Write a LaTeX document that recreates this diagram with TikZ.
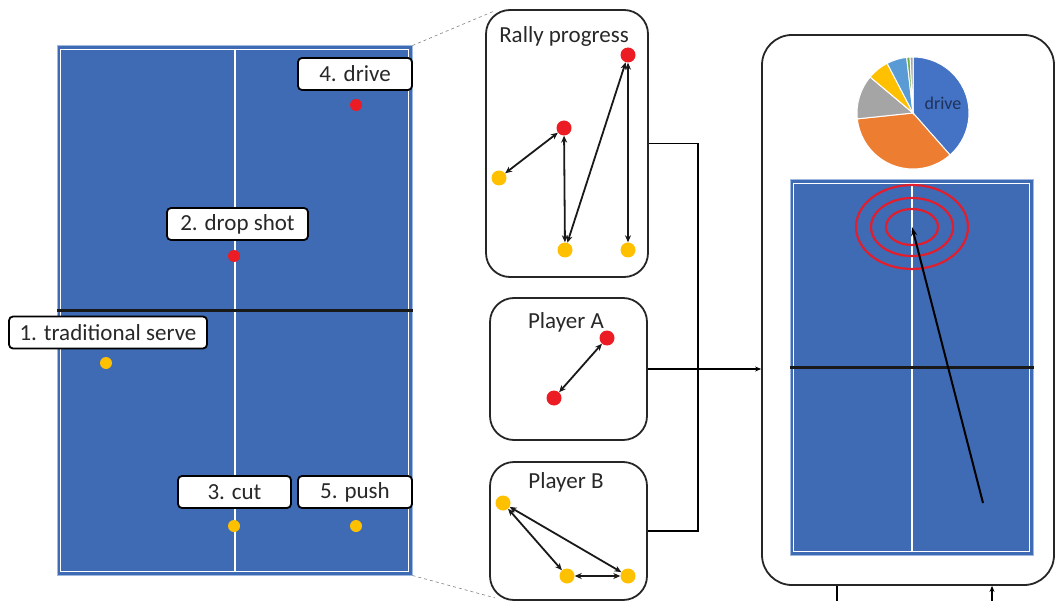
\documentclass[tikz,border=0pt]{standalone}
\usepackage{fontspec}
\setmainfont{Carlito}
\usetikzlibrary{positioning, arrows.meta}
\definecolor{tableblue}{RGB}{63,107,180}
\definecolor{rimblue}{RGB}{160,185,225}
\definecolor{dotred}{RGB}{235,28,36}
\definecolor{dotyellow}{RGB}{255,192,0}
\definecolor{textgray}{RGB}{40,40,40}
\definecolor{ringred}{RGB}{225,30,45}
\definecolor{pieblue}{RGB}{68,114,196}
\definecolor{pieorange}{RGB}{237,125,49}
\definecolor{piegray}{RGB}{165,165,165}
\definecolor{pieyellow}{RGB}{255,192,0}
\definecolor{pielight}{RGB}{91,155,213}
\definecolor{piegreen}{RGB}{112,173,71}
\definecolor{navytext}{RGB}{31,50,90}

\begin{document}
\begin{tikzpicture}[x=1pt, y=-1pt, every node/.style={font=\fontsize{23}{26}\selectfont, text=textgray},
  tag/.style={draw=black, fill=white, rounded corners=4pt, line width=1.8pt, minimum height=32pt, inner sep=2pt},
  panel/.style={draw=black!85, rounded corners=24pt, line width=1.8pt},
  court/.style={draw=rimblue, fill=tableblue, line width=1pt},
  rdot/.style={circle, fill=dotred, inner sep=0pt, minimum size=#1}, rdot/.default=15pt,
  ydot/.style={circle, fill=dotyellow, inner sep=0pt, minimum size=#1}, ydot/.default=15pt,
  move/.style={<->, >={Stealth[length=7pt, width=6pt]}, line width=1.8pt, black!90},
  link/.style={line width=1.5pt},
  net/.style={line width=2.5pt, black!90},
  ring/.style={draw=ringred, line width=2.2pt}]
 \useasboundingbox (0,0) rectangle (1056,601);

 % left table
 \node[court, minimum width=355pt, minimum height=529pt] (court) at (234.5,310.5) {};
 \draw[white, line width=1.5pt] ([shift={(4pt,-4pt)}]court.north west) rectangle ([shift={(-4pt,4pt)}]court.south east);
 \draw[white, line width=2pt] ([yshift=-4pt]court.north) -- ([yshift=4pt]court.south);
 \draw[net] (court.west) -- (court.east);

 \node[rdot=12pt] (drive) at (356,105) {};
 \node[rdot=12pt] (drop)  at (234,256) {};
 \node[ydot=12pt] (serve) at (106,363) {};
 \node[ydot=12pt] (cut)   at (234,526) {};
 \node[ydot=12pt] (push)  at (356,526) {};
 \node[tag, minimum width=114pt] (lbldrive) at (355,74)    {4. drive};
 \node[tag, minimum width=141pt] (lbldrop)  at (237.5,224) {2. drop shot};
 \node[tag, minimum width=198pt] (lblserve) at (108,332.5) {1. traditional serve};
 \node[tag, minimum width=113pt] (lblcut)   at (234.5,492) {3. cut};
 \node[tag, minimum width=114pt] (lblpush)  at (355,492)   {5. push};

 % panels
 \node[panel, minimum width=162pt, minimum height=267pt] (rally)   at (567,143.5) {};
 \node[panel, minimum width=157pt, minimum height=142pt] (playerA) at (568.5,369) {};
 \node[panel, minimum width=157pt, minimum height=138pt] (playerB) at (568.5,531) {};
 \node (rallytitle) at (564,36)  {Rally progress};
 \node (atitle)     at (566,322) {Player A};
 \node (btitle)     at (566,482) {Player B};

 \draw[gray, dashed, line width=0.6pt] (court.north east) -- ([xshift=9pt, yshift=-2pt]rally.north west);
 \draw[gray, dashed, line width=0.6pt] (court.south east) -- ([xshift=6pt, yshift=3pt]playerB.south west);

 \node[ydot] (r1) at (499,178) {};
 \node[rdot] (r2) at (564,128) {};
 \node[ydot] (r3) at (565,250) {};
 \node[rdot] (r4) at (628,55)  {};
 \node[ydot] (r5) at (628,250) {};
 \draw[move] (r1) -- (r2);
 \draw[move] (r2) -- (r3);
 \draw[move] (r3) -- (r4);
 \draw[move] (r4) -- (r5);

 \node[rdot] (a1) at (554,398) {};
 \node[rdot] (a2) at (607,338) {};
 \draw[move] (a1) -- (a2);

 \node[ydot] (b1) at (503,503) {};
 \node[ydot] (b2) at (567,576) {};
 \node[ydot] (b3) at (628,576) {};
 \draw[move] (b1) -- (b2);
 \draw[move] (b1) -- (b3);
 \draw[move] (b2) -- (b3);

 % summary
 \node[panel, rounded corners=30pt, minimum width=292pt, minimum height=550pt] (summary) at (908,310) {};
 \draw[link] (rally.east) -- ++(49,0) coordinate (bend) |- (playerB.east);
 \draw[link, -{Stealth[length=6pt, width=5pt]}] (playerA.east) -- (playerA.east -| summary.west);
 \coordinate (outL) at (837,601);
 \coordinate (outR) at (992,601);
 \draw[link] (summary.south -| outL) -- (outL);
 \draw[link, -{Stealth[length=6pt, width=5pt]}] (outR) -- (outR |- summary.south);

 \begin{scope}[shift={(913,113)}, yscale=-1]
  \foreach \a/\b/\c in {-48.6/90/pieblue, -174/-48.6/pieorange, 140/186/piegray, 117.5/140/pieyellow, 96.5/117.5/pielight, 93/96.5/piegreen, 90/93/piegray}
   \filldraw[fill=\c, draw=white, line width=1pt] (0,0) -- (\a:56) arc[start angle=\a, end angle=\b, radius=56] -- cycle;
 \end{scope}
 \node[font=\fontsize{18}{20}\selectfont, text=navytext] (drivetag) at (943,103) {drive};

 \node[court, minimum width=243pt, minimum height=375pt] (target) at (911.5,367.5) {};
 \draw[white, line width=1.5pt] ([shift={(4pt,-4pt)}]target.north west) rectangle ([shift={(-4pt,4pt)}]target.south east);
 \draw[white, line width=2pt] ([yshift=-4pt]target.north) -- ([yshift=4pt]target.south);
 \draw[net] (target.west) -- (target.east);
 \coordinate (aim) at (912,227);
 \coordinate (shot) at (983,503);
 \draw[ring] (aim) ellipse [x radius=56, y radius=42];
 \draw[ring] (aim) ellipse [x radius=41, y radius=29];
 \draw[ring] (aim) ellipse [x radius=26, y radius=18];
 \draw[line width=2pt, -{Stealth[length=9pt, width=6pt]}] (shot) -- (aim);
\end{tikzpicture}
\end{document}
